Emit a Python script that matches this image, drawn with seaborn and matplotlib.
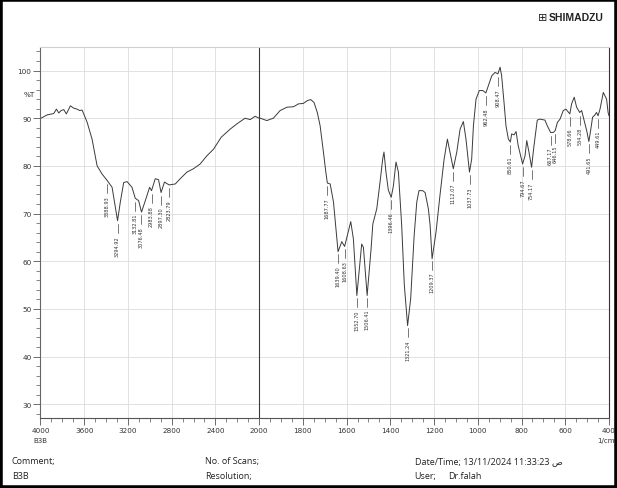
import numpy as np
import pandas as pd
import matplotlib
matplotlib.use("Agg")
import matplotlib.pyplot as plt
import seaborn as sns
from matplotlib.ticker import FixedLocator, FixedFormatter
from matplotlib.patches import Rectangle

# ---------------- data ----------------
wavenumber = [4000, 3994, 3939, 3893, 3878, 3854, 3833, 3811, 3787, 3763, 3726, 3696, 3665,
              3641, 3619, 3574, 3528, 3482, 3437, 3389, 3345, 3320, 3295, 3269, 3239, 3208,
              3163, 3133, 3102, 3076, 3041, 3002, 2984, 2950, 2920, 2897, 2866, 2824, 2767,
              2722, 2660, 2600, 2539, 2478, 2417, 2347, 2265, 2204, 2128, 2082, 2037, 2000,
              1995, 1965, 1935, 1904, 1873, 1843, 1820, 1798, 1779, 1764, 1749, 1734, 1721,
              1706, 1695, 1688, 1675, 1660, 1650, 1639, 1622, 1609, 1581, 1569, 1553, 1531,
              1523, 1506, 1488, 1480, 1462, 1447, 1435, 1429, 1420, 1409, 1396, 1386, 1374,
              1363, 1348, 1336, 1321, 1307, 1291, 1279, 1269, 1252, 1241, 1226, 1218, 1209,
              1191, 1173, 1154, 1139, 1127, 1112, 1096, 1081, 1066, 1054, 1038, 1028, 1020,
              1008, 993, 977, 963, 952, 936, 921, 908, 898, 891, 880, 871, 860, 851, 845,
              834, 825, 815, 795, 784, 776, 766, 754, 743, 728, 716, 693, 682, 667, 655, 646,
              636, 624, 609, 597, 579, 571, 559, 548, 534, 525, 515, 502, 492, 484, 475, 464,
              457, 450, 441, 426, 411, 404, 400]
transmittance = [90.0, 90.0, 90.7, 90.9, 91.0, 91.9, 91.1, 91.6, 91.8, 90.9, 92.6, 92.1, 91.9,
                 91.6, 91.7, 89.2, 85.6, 80.0, 78.3, 76.9, 75.5, 72.0, 68.5, 72.5, 76.5, 76.7,
                 75.5, 73.2, 72.7, 70.3, 72.7, 75.5, 74.8, 77.3, 77.1, 74.4, 76.6, 76.0, 76.2,
                 77.3, 78.7, 79.4, 80.4, 82.1, 83.5, 86.0, 87.7, 88.8, 90.0, 89.7, 90.4, 90.0,
                 90.0, 89.5, 90.0, 91.6, 92.3, 92.4, 93.0, 93.1, 93.7, 93.9, 93.3, 91.2, 88.4,
                 82.9, 78.7, 76.4, 76.2, 72.4, 67.5, 62.0, 64.1, 63.1, 68.3, 64.7, 52.8, 63.6,
                 62.9, 52.8, 62.6, 67.8, 71.0, 76.6, 81.4, 82.9, 78.7, 74.9, 73.4, 75.8, 80.8,
                 78.7, 67.5, 55.0, 46.5, 52.1, 65.4, 72.4, 74.8, 74.8, 74.4, 71.0, 67.5, 60.5,
                 66.1, 73.8, 81.4, 85.6, 82.9, 79.4, 82.9, 87.7, 89.3, 85.6, 78.7, 81.4, 88.4,
                 94.0, 95.8, 95.8, 95.3, 96.8, 98.9, 99.6, 99.3, 100.7, 98.9, 93.3, 88.4, 85.6, 85.0, 86.7,
                 86.5, 87.2, 84.2, 80.4, 82.1, 85.3, 82.9, 79.7, 84.2, 89.6, 89.8, 89.6, 88.4, 87.0, 87.0, 87.4,
                 89.1, 89.8, 91.6, 91.9, 90.9, 93.0, 94.4, 92.3, 91.2, 91.6, 89.8, 87.4, 85.1, 87.4, 90.2, 90.7,
                 91.2, 90.5, 91.9, 95.4, 94.0, 91.2, 90.5]

peak_wn = [3388.93, 3294.92, 3132.81, 3076.48, 2983.88, 2897.30, 2823.79,
           1687.77, 1639.40, 1608.63, 1552.70, 1506.41, 1396.46, 1321.24, 1209.37,
           1112.07, 1037.73, 962.48, 908.47, 850.61, 794.67, 754.17, 667.17, 646.15,
           578.66, 534.28, 491.65, 449.61]
peak_labels = ["3388.93", "3294.92", "3132.81", "3076.48", "2983.88", "2897.30", "2823.79",
               "1687.77", "1639.40", "1608.63", "1552.70", "1506.41", "1396.46", "1321.24",
               "1209.37", "1112.07", "1037.73", "962.48", "908.47", "850.61", "794.67",
               "754.17", "667.17", "646.15", "578.66", "534.28", "491.65", "449.61"]

x_ticks = [4000, 3600, 3200, 2800, 2400, 2000, 1800, 1600, 1400, 1200, 1000, 800, 600, 400]
y_ticks = [30, 40, 50, 60, 70, 80, 90, 100]

# ---------------- style ----------------
sns.set_style("white")
plt.rcParams['font.family'] = ['DejaVu Sans']
narrow = ['Liberation Sans Narrow', 'DejaVu Sans']
info_font = ['Open Sans', 'DejaVu Sans']

fig = plt.figure(figsize=(6.17, 4.89), dpi=100)
ax = fig.add_axes([0.0656, 0.1431, 0.9214, 0.7594])


def fwd(x):
    x = np.asarray(x, dtype=float)
    return np.where(x > 2000, 2000 + (x - 2000) / 2.0, x)


def inv(u):
    u = np.asarray(u, dtype=float)
    return np.where(u > 2000, 2000 + (u - 2000) * 2.0, u)


ax.set_xscale('function', functions=(fwd, inv))

df = pd.DataFrame({"wavenumber": wavenumber, "T": transmittance})
sns.lineplot(data=df, x="wavenumber", y="T", ax=ax, color="#3a3a3a", lw=0.7,
             estimator=None, sort=True)

ax.set_xlim(4000, 400)
ax.set_ylim(27.1, 105.0)

# grid
for xv in x_ticks:
    if xv in (2000, 4000, 400):
        continue
    ax.axvline(xv, color="#dcdcdc", lw=0.6, zorder=0)
for yv in y_ticks:
    ax.axhline(yv, color="#dcdcdc", lw=0.6, zorder=0)
ax.axvline(2000, color="#3a3a3a", lw=0.8, zorder=1)

# ticks
ax.xaxis.set_major_locator(FixedLocator(x_ticks))
ax.xaxis.set_major_formatter(FixedFormatter([str(v) for v in x_ticks]))
minor_x = list(range(4000, 2000, -100)) + list(range(2000, 399, -50))
ax.xaxis.set_minor_locator(FixedLocator(minor_x))
ax.yaxis.set_major_locator(FixedLocator(y_ticks))
ax.yaxis.set_major_formatter(FixedFormatter([str(v) for v in y_ticks]))
ax.yaxis.set_minor_locator(FixedLocator(list(range(28, 106, 2))))

ax.tick_params(axis='both', which='major', length=5, width=0.6, color="#555555",
               labelsize=5.2, labelcolor="#333333", direction='out', pad=1.5)
ax.tick_params(axis='both', which='minor', length=3, width=0.5, color="#555555",
               direction='out')
ax.tick_params(axis='x', which='both', bottom=True, top=False)
ax.tick_params(axis='y', which='both', left=True, right=False)
for lab in ax.get_xticklabels() + ax.get_yticklabels():
    lab.set_family(narrow)

ax.set_xlabel("")
ax.set_ylabel("")

for side, col in (("left", "#666666"), ("bottom", "#555555"), ("top", "#d0d0d0"),
                  ("right", "#333333")):
    ax.spines[side].set_visible(True)
    ax.spines[side].set_color(col)
    ax.spines[side].set_linewidth(0.8)

# %T label and axis captions
ax.text(-0.010, 95, "%T", transform=ax.get_yaxis_transform(), ha='right', va='center',
        fontsize=5.2, color="#333333", family=narrow)
ax.text(0.0, -0.050, "B3B", transform=ax.transAxes, ha='center', va='top',
        fontsize=5.0, color="#333333", family=narrow)
ax.text(0.995, -0.050, "1/cm", transform=ax.transAxes, ha='center', va='top',
        fontsize=5.0, color="#333333", family=narrow)

# peak labels
wn_sorted = np.array(wavenumber[::-1], dtype=float)
t_sorted = np.array(transmittance[::-1], dtype=float)
for pw, pl in zip(peak_wn, peak_labels):
    tv = float(np.interp(pw, wn_sorted, t_sorted))
    ax.plot([pw, pw], [tv - 0.7, tv - 2.6], color="#444444", lw=0.5)
    ax.text(pw, tv - 3.0, pl, rotation=90, ha='center', va='top', fontsize=3.6,
            color="#333333", family=narrow)

# logo
fig.text(0.887, 0.963, "\u229e", ha='right', va='center', fontsize=8, color="#222222")
fig.text(0.890, 0.963, "SHIMADZU", ha='left', va='center', fontsize=7.5,
         fontweight='bold', color="#222222", family=['Liberation Sans', 'DejaVu Sans'])

# footer info
fig.text(0.019, 0.057, "Comment;", fontsize=6.5, color="#222222", family=info_font, va='center')
fig.text(0.019, 0.025, "B3B", fontsize=6.5, color="#222222", family=info_font, va='center')
fig.text(0.332, 0.057, "No. of Scans;", fontsize=6.5, color="#222222", family=info_font, va='center')
fig.text(0.332, 0.025, "Resolution;", fontsize=6.5, color="#222222", family=info_font, va='center')
fig.text(0.672, 0.057, "Date/Time; 13/11/2024 11:33:23 \u0635", fontsize=6.5, color="#222222",
         family=info_font + ['DejaVu Sans'], va='center')
fig.text(0.672, 0.025, "User;", fontsize=6.5, color="#222222", family=info_font, va='center')
fig.text(0.726, 0.025, "Dr.falah", fontsize=6.5, color="#222222", family=info_font, va='center')

# page frame
fig.patches.append(Rectangle((0, 0), 1, 1, transform=fig.transFigure, fill=False,
                             lw=4, edgecolor='black'))

fig.savefig("out.png", dpi=100)
